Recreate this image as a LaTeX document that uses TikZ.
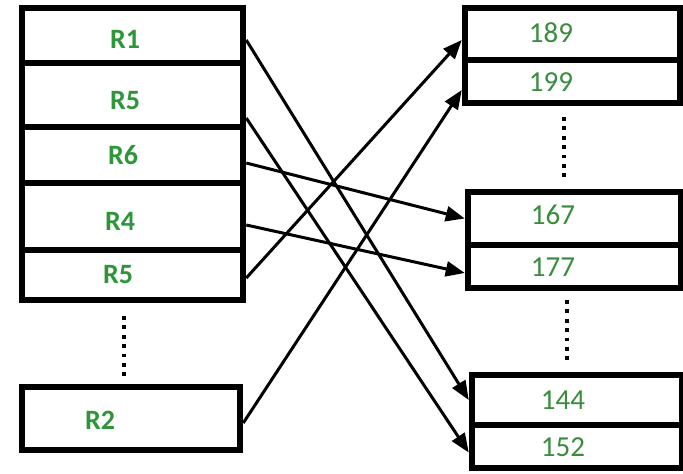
\documentclass[tikz,border=0pt]{standalone}
\usepackage{fontspec}
\setmainfont{Carlito}
\usetikzlibrary{arrows.meta}
\definecolor{labgreen}{RGB}{46,150,58}
\definecolor{numgreen}{RGB}{58,140,62}
\begin{document}
\begin{tikzpicture}[x=1pt,y=-1pt,
  cell/.style={draw=black,line width=6.5pt,rectangle,inner sep=0pt,fill=white},
  rlab/.style={text=labgreen,font=\fontsize{28}{30}\selectfont\bfseries,inner sep=0pt},
  nlab/.style={text=numgreen,font=\fontsize{29}{31}\selectfont,inner sep=0pt},
  link/.style={line width=3pt,-{Triangle[length=19pt,width=15pt]}},
  dots/.style={line width=3.8pt,dash pattern=on 3.8pt off 5.6pt}]
\useasboundingbox (0,0) rectangle (683,474);

% left column of records
\node[cell,minimum width=221,minimum height=55] (r1)  at (132.5,35.5) {};
\node[cell,minimum width=221,minimum height=64] (r5a) at (132.5,95) {};
\node[cell,minimum width=221,minimum height=56] (r6)  at (132.5,155) {};
\node[cell,minimum width=221,minimum height=67] (r4)  at (132.5,216.5) {};
\node[cell,minimum width=221,minimum height=50] (r5b) at (132.5,275) {};
\node[cell,minimum width=218,minimum height=63] (r2)  at (131,418.5) {};

\node[rlab] (t1)  at (125,39)  {R1};
\node[rlab] (t5a) at (125,101) {R5};
\node[rlab] (t6)  at (123,155) {R6};
\node[rlab] (t4)  at (120,221) {R4};
\node[rlab] (t5b) at (118,275) {R5};
\node[rlab] (t2)  at (100,420) {R2};

% right column of keys
\node[cell,minimum width=215,minimum height=52] (n189) at (572.5,34) {};
\node[cell,minimum width=215,minimum height=43] (n199) at (572.5,81.5) {};
\node[cell,minimum width=213,minimum height=53] (n167) at (574.5,218.5) {};
\node[cell,minimum width=213,minimum height=43] (n177) at (574.5,266.5) {};
\node[cell,minimum width=210,minimum height=50] (n144) at (577,400) {};
\node[cell,minimum width=210,minimum height=43] (n152) at (577,446.5) {};

\node[nlab] (u189) at (551,33)  {189};
\node[nlab] (u199) at (551,82)  {199};
\node[nlab] (u167) at (553,215) {167};
\node[nlab] (u177) at (553,267) {177};
\node[nlab] (u144) at (563,400) {144};
\node[nlab] (u152) at (563,447) {152};

% elided entries
\coordinate (dl1) at (124,316);
\coordinate (dl2) at (124,378);
\coordinate (dr1) at (564,117);
\coordinate (dr2) at (564,178);
\coordinate (dr3) at (567,300);
\coordinate (dr4) at (567,362);
\draw[dots] (dl1) -- (dl2);
\draw[dots] (dr1) -- (dr2);
\draw[dots] (dr3) -- (dr4);

% record-to-key links
\draw[link] ([yshift=-4.5pt]r1.east)  -- (n144.west);
\draw[link] ([yshift=-23pt]r5a.east)  -- ([yshift=-6pt]n152.west);
\draw[link] ([yshift=-8pt]r6.east)    -- (n167.west);
\draw[link] ([yshift=-8.5pt]r4.east)  -- ([yshift=-6.5pt]n177.west);
\draw[link] ([yshift=-3pt]r5b.east)   -- ([yshift=-6pt]n189.west);
\draw[link] ([yshift=-4.5pt]r2.east)  -- ([yshift=-8.5pt]n199.west);
\end{tikzpicture}
\end{document}
